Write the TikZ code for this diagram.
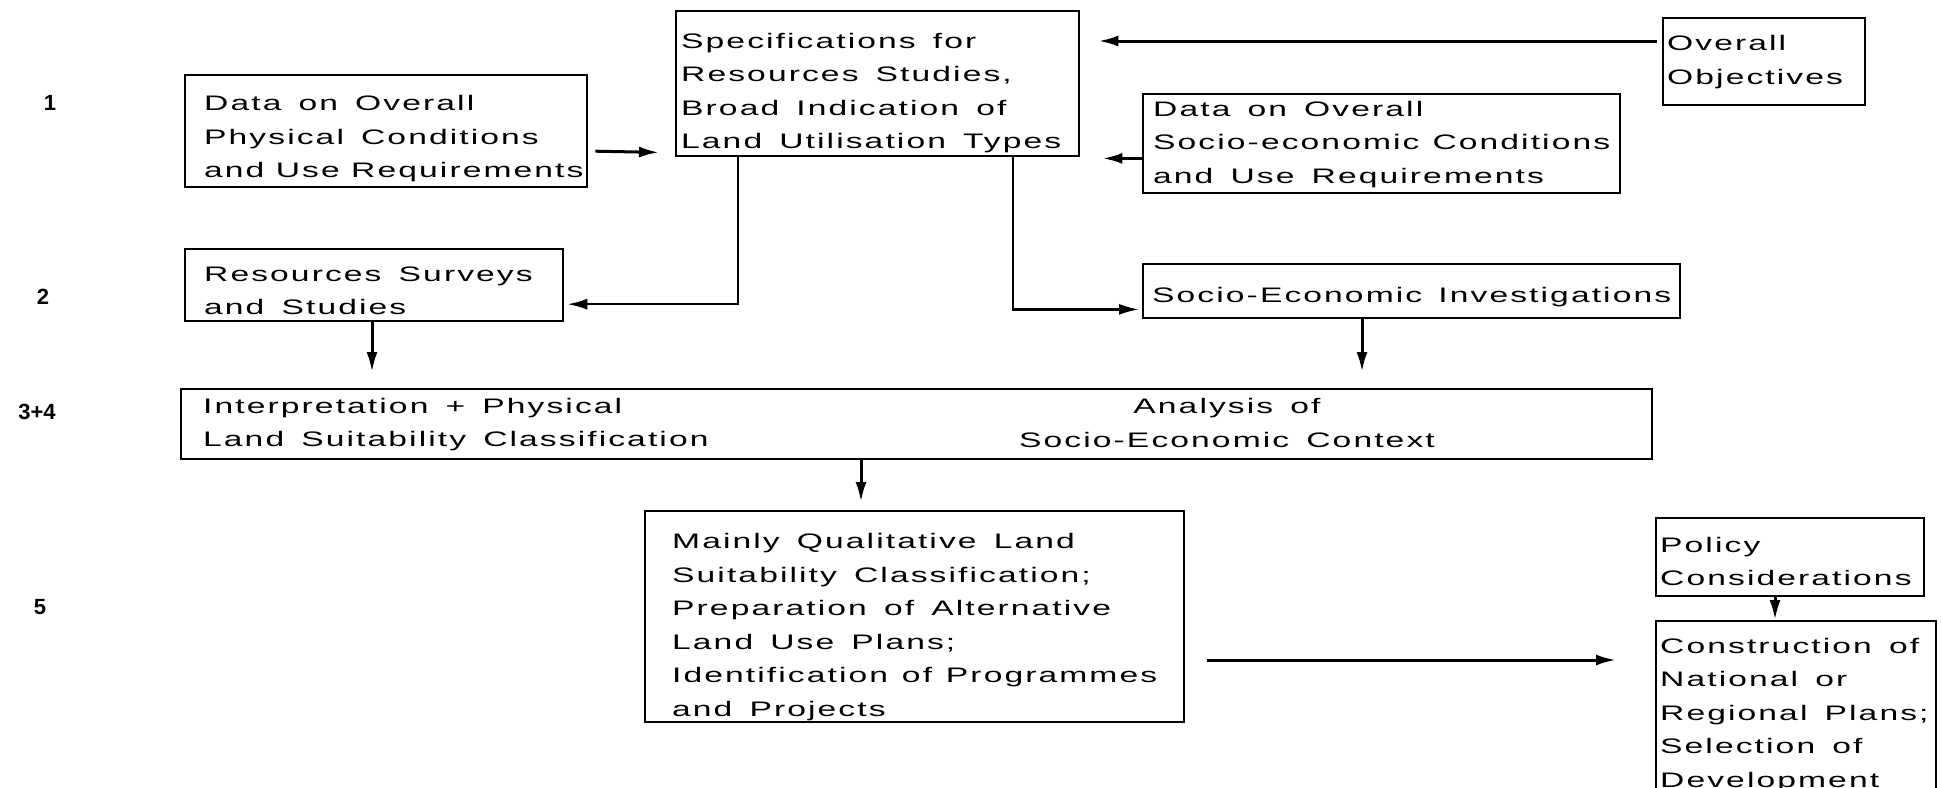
\documentclass[tikz,border=0pt]{standalone}
\usepackage{fontspec}
\usetikzlibrary{shapes,arrows.meta,positioning,calc}
\newfontfamily\boxfont[FakeStretch=1.6,LetterSpace=10,WordSpace=1.5]{Liberation Sans}
\newfontfamily\rowfont{Liberation Sans}
\hyphenpenalty=10000
\exhyphenpenalty=10000

\begin{document}
\begin{tikzpicture}[x=0.5pt, y=-0.5pt,
  lettering/.style={font=\boxfont\fontsize{10.5}{16.75}\selectfont},
  stage/.style={draw, line width=1.2pt, anchor=north west, align=left, inner ysep=0pt, text height=8pt, lettering,
    execute at begin node={\spaceskip=0pt\xspaceskip=0pt}},
  rowlbl/.style={font=\rowfont\bfseries\fontsize{11}{13}\selectfont},
  arr/.style={line width=1.5pt, -{Latex[length=10pt, width=5.5pt]}},
  link/.style={line width=1.1pt, -{Latex[length=10pt, width=5.5pt]}}]
  \clip (0,0) rectangle (1942,787);
  \fill[white] (0,0) rectangle (1942,787);
  \node[rowlbl] (row1) at (50,103) {1};
  \node[rowlbl] (row2) at (43,297) {2};
  \node[rowlbl] (row34) at (37,412) {3+4};
  \node[rowlbl] (row5) at (40,607) {5};
  \node[stage, inner xsep=9.5pt, text width=182pt, minimum height=56pt, text height=15pt] (dataphys) at (184,74) {Data on Overall\\Physical Conditions\\and~Use~Requirements};
  \node[stage, inner xsep=2.5pt, text width=196.5pt, minimum height=72.5pt, text height=17pt] (spec) at (675,10) {Specifications for\\Resources Studies,\\Broad Indication of\\Land~Utilisation~Types};
  \node[stage, inner xsep=2pt, text width=97pt, minimum height=43.5pt] (obj) at (1662,17) {Overall\\Objectives};
  \node[stage, inner xsep=5pt, text width=228.5pt, minimum height=49.5pt] (datasoc) at (1142,93) {Data on Overall\\Socio-economic~Conditions\\and Use Requirements};
  \node[stage, inner xsep=9.5pt, text width=170pt, minimum height=36pt, text height=13pt] (res) at (184,248) {Resources~Surveys\\and Studies};
  \node[stage, inner xsep=4.5pt, text width=259.5pt, minimum height=27pt, text height=13pt] (socinv) at (1142,263) {Socio-Economic~Investigations};
  \node[stage, inner xsep=11pt, text width=713.5pt, minimum height=35pt] (interp) at (180,388) {Interpretation + Physical\\Land Suitability Classification};
  \node[lettering, align=center] (ctx) at (1227,423) {Analysis of\\Socio-Economic Context};
  \node[stage, inner xsep=13.5pt, text width=242.5pt, minimum height=105.5pt, text height=18pt] (qual) at (644,510) {Mainly Qualitative Land\\Suitability Classification;\\Preparation of Alternative\\Land Use Plans;\\Identification~of~Programmes\\and Projects};
  \node[stage, inner xsep=2pt, text width=130pt, minimum height=39pt, text height=12pt] (pol) at (1655,517) {Policy\\Considerations};
  \node[stage, inner xsep=2pt, inner ysep=8pt, text width=136pt] (con) at (1655,620) {Construction of\\National or\\Regional Plans;\\Selection of\\Development};
  \draw[arr] ($(dataphys.east)+(7,20)$) -- ($(spec.south west)+(-16,-5)$);
  \draw[arr] ($(obj.north west)+(-5,24)$) -- ($(spec.north east)+(18,31)$);
  \draw[arr] ($(datasoc.south west)+(0,-36)$) -- ($(spec.south east)+(22,1)$);
  \draw[link] ($(spec.south west)+(63,0)$) |- ($(res.east)+(3,19)$);
  \draw[link] ($(spec.south west)+(338,0)$) |- ($(socinv.south west)+(-3,-10)$);
  \draw[arr] ($(res.south west)+(188,0)$) -- ($(interp.north west)+(192,-16)$);
  \draw[arr] ($(socinv.south west)+(220,0)$) -- ($(interp.north west)+(1182,-16)$);
  \draw[arr] ($(interp.south west)+(681,0)$) -- ($(qual.north west)+(217,-8)$);
  \draw[arr] ($(qual.north east)+(22,150)$) -- ($(con.north west)+(-39,40)$);
  \draw[arr] ($(pol.south west)+(120,0)$) -- ($(con.north west)+(120,0)$);
\end{tikzpicture}
\end{document}
